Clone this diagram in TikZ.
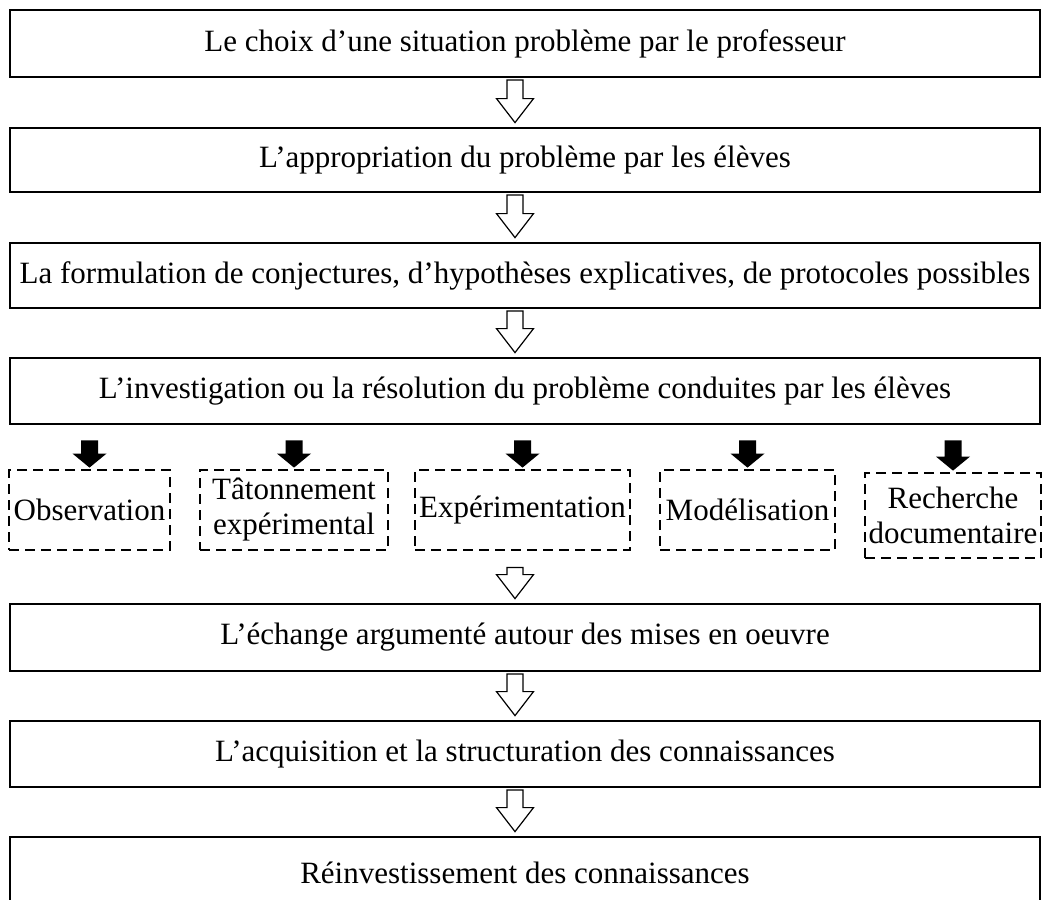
\documentclass[tikz,border=0pt]{standalone}
\usepackage{fontspec}
\setmainfont{Liberation Serif}
\usetikzlibrary{calc}
\newcommand\wharrow[3][1.5pt]{%
  \draw[warrow] let \p1=(#2.south -| ax), \p2=(#3.north -| ax) in
    (\x1-8pt,\y1-#1) -- (\x1-8pt,\y2+28pt) -- (\x1-18.5pt,\y2+28pt) -- (\x1,\y2+4pt)
    -- (\x1+18.5pt,\y2+28pt) -- (\x1+8pt,\y2+28pt) -- (\x1+8pt,\y1-#1) -- cycle;}
\newcommand\bkarrow[2]{%
  \fill let \p1=(#1.south -| #2.north), \p2=(#2.north) in
    (\x1-8.5pt,\y1-15pt) -- (\x1-8.5pt,\y2+15pt) -- (\x1-17pt,\y2+15pt) -- (\x2,\y2+1pt)
    -- (\x1+17pt,\y2+15pt) -- (\x1+8.5pt,\y2+15pt) -- (\x1+8.5pt,\y1-15pt) -- cycle;}
\begin{document}
\begin{tikzpicture}[x=1pt,y=-1pt,
  mainbox/.style={draw, line width=2.8pt, minimum width=1030pt, inner sep=0pt,
    font=\fontsize{31}{36}\selectfont},
  dbox/.style={draw, line width=2.8pt, dash pattern=on 10pt off 6pt, inner sep=0pt,
    align=center, font=\fontsize{31}{35}\selectfont},
  warrow/.style={draw, line width=1.2pt, fill=white, line join=miter}]
\clip (0,0) rectangle (1043,899);
\useasboundingbox (0,0) rectangle (1043,899);
\fill[white] (0,0) rectangle (1043,899);
\coordinate (ax) at (515,0);
\node[mainbox, minimum height=67pt] (b1) at (525,43.5) {Le choix d’une situation problème par le professeur};
\node[mainbox, minimum height=64pt] (b2) at (525,160) {L’appropriation du problème par les élèves};
\node[mainbox, minimum height=65pt] (b3) at (525,275.5) {La formulation de conjectures, d’hypothèses explicatives, de protocoles possibles};
\node[mainbox, minimum height=66pt] (b4) at (525,391) {L’investigation ou la résolution du problème conduites par les élèves};
\node[dbox, minimum width=161pt, minimum height=80pt] (d1) at (89.5,510) {Observation};
\node[dbox, minimum width=188pt, minimum height=80pt] (d2) at (294,510) {Tâtonnement\\expérimental};
\node[dbox, minimum width=215pt, minimum height=80pt] (d3) at (522.5,510) {Expérimentation};
\node[dbox, minimum width=175pt, minimum height=80pt] (d4) at (747.5,510) {Modélisation};
\node[dbox, minimum width=176pt, minimum height=85pt] (d5) at (953,515.5) {Recherche\\documentaire};
\node[mainbox, minimum height=67pt] (b5) at (525,637.5) {L’échange argumenté autour des mises en oeuvre};
\node[mainbox, minimum height=66pt] (b6) at (525,754) {L’acquisition et la structuration des connaissances};
\node[mainbox, minimum height=72pt] (b7) at (525,873) {Réinvestissement des connaissances};
\wharrow{b1}{b2}
\wharrow{b2}{b3}
\wharrow{b3}{b4}
\wharrow[16pt]{d3}{b5}
\wharrow{b5}{b6}
\wharrow{b6}{b7}
\bkarrow{b4}{d1}
\bkarrow{b4}{d2}
\bkarrow{b4}{d3}
\bkarrow{b4}{d4}
\bkarrow{b4}{d5}
\end{tikzpicture}
\end{document}
